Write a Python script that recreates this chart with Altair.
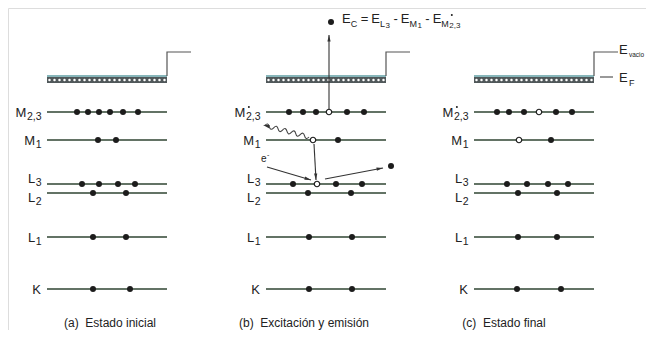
import math
import altair as alt
import pandas as pd
import numpy as np

FONT = "Liberation Sans"
INK = "#1c1c1c"
LINE_C = "#2f4532"
STEP_C = "#555555"

# ---------------- data ----------------
PANELS = ["a", "b", "c"]
PANEL_X0 = [47, 266, 474]          # left end of orbital lines (px-like units)
LINE_LEN = 120
CAPTIONS = ["(a)\u00a0 Estado inicial", "(b)\u00a0 Excitación y emisión", "(c)\u00a0 Estado final"]
CAPTION_X = [110, 304, 504]
CAPTION_Y = 323

LEVELS = ["M23", "M1", "L3", "L2", "L1", "K"]
LEVEL_Y = [112, 140, 184, 193, 237, 289]          # energy axis (screen units)
LEVEL_LETTER = ["M", "M", "L", "L", "L", "K"]
LEVEL_SUB = ["2,3", "1", "3", "2", "1", ""]
LEVEL_LABEL_Y = [112, 140, 178, 197, 237, 289]
STAR_PANELS = ["b", "c"]                         # M2,3* marked with a star

BAND_TOP, BAND_BOT, VACUUM = 76, 83, 52
STEP_LEN = 24

# electron positions along each level (offset from line start)
ELECTRONS = {
    "a": {"M23": [30, 41, 52, 63, 76, 91], "M1": [51, 69], "L3": [35, 52, 71, 88],
          "L2": [46, 79], "L1": [46, 79], "K": [46, 83]},
    "b": {"M23": [23, 37, 50, 81, 98], "M1": [72], "L3": [27, 70, 96],
          "L2": [42, 85], "L1": [43, 86], "K": [43, 86]},
    "c": {"M23": [23, 35, 50, 82, 98], "M1": [77], "L3": [33, 53, 74, 94],
          "L2": [44, 83], "L1": [44, 83], "K": [43, 87]},
}
HOLES = {
    "b": {"M23": [63], "M1": [47], "L3": [51]},
    "c": {"M23": [65], "M1": [45]},
}

# arrows in panel (b): start -> end (head at end)
ARROW_X1 = [329, 314, 267, 325]
ARROW_Y1 = [110, 144, 167, 179]
ARROW_X2 = [329, 316, 311, 383]
ARROW_Y2 = [35, 180, 180, 168]
WAVE_FROM = (309, 137)
WAVE_TO = (263, 125)
FREE_ELECTRONS_X = [331, 391]
FREE_ELECTRONS_Y = [22, 166]

FORMULA = [("E", "m"), ("C", "s"), ("=", "m"), ("E", "m"), ("L", "s"), ("3", "ss"),
           ("-", "m"), ("E", "m"), ("M", "s"), ("1", "ss"),
           ("-", "m"), ("E", "m"), ("M", "s"), ("2,3", "ss")]
FORMULA_X0, FORMULA_BASE = 342, 23

# ---------------- helpers ----------------
CW = {'M': 0.833, 'L': 0.556, 'K': 0.667, 'E': 0.667, 'C': 0.722, 'F': 0.611,
      '1': 0.556, '2': 0.556, '3': 0.556, ',': 0.278, ' ': 0.278, '=': 0.584, '-': 0.333}


def tw(s, fs):
    return sum(CW.get(c, 0.55) for c in s) * fs


XS = alt.Scale(domain=[8, 646], nice=False, zero=False)
YS = alt.Scale(domain=[8, 330], nice=False, zero=False, reverse=True)


def X(f="x"):
    return alt.X(f"{f}:Q", scale=XS, axis=None)


def Y(f="y"):
    return alt.Y(f"{f}:Q", scale=YS, axis=None)


# ---------------- build tables ----------------
lines_rows, band_rows, dot_rows, step_rows, e_rows, h_rows = [], [], [], [], [], []
lab_rows, star_rows = [], []
for p, x0 in zip(PANELS, PANEL_X0):
    for lev, y, let, sub, ly in zip(LEVELS, LEVEL_Y, LEVEL_LETTER, LEVEL_SUB, LEVEL_LABEL_Y):
        lines_rows.append(dict(x=x0, x2=x0 + LINE_LEN, y=y))
        for o in ELECTRONS[p].get(lev, []):
            e_rows.append(dict(x=x0 + o, y=y))
        for o in HOLES.get(p, {}).get(lev, []):
            h_rows.append(dict(x=x0 + o, y=y))
        wl, ws = tw(let, 13), tw(sub, 10.5)
        xl = x0 - 6 - wl - ws
        lab_rows.append(dict(x=xl, y=ly + 4.5, t=let, fs=13))
        if sub:
            lab_rows.append(dict(x=xl + wl + 0.5, y=ly + 8, t=sub, fs=10.5))
        if lev == "M23" and p in STAR_PANELS:
            star_rows.append(dict(x=xl + wl + 3.5, y=ly - 5))
    band_rows.append(dict(x=x0, x2=x0 + LINE_LEN, y=BAND_TOP + 1, y2=BAND_BOT, yt=BAND_TOP))
    for xd in np.arange(x0 + 2.5, x0 + LINE_LEN, 5.0):
        dot_rows.append(dict(x=float(xd), y=(BAND_TOP + BAND_BOT) / 2 + 0.5))
    for i, (sx, sy) in enumerate([(x0 + LINE_LEN, BAND_TOP), (x0 + LINE_LEN, VACUUM),
                                  (x0 + LINE_LEN + STEP_LEN, VACUUM)]):
        step_rows.append(dict(x=sx, y=sy, o=i, p=p))

for x, y in zip(FREE_ELECTRONS_X, FREE_ELECTRONS_Y):
    e_rows.append(dict(x=x, y=y))

arrows = pd.DataFrame(dict(x=ARROW_X1, y=ARROW_Y1, x2=ARROW_X2, y2=ARROW_Y2))
heads = []
for x1, y1, x2, y2 in zip(ARROW_X1, ARROW_Y1, ARROW_X2, ARROW_Y2):
    ang = math.degrees(math.atan2(x2 - x1, -(y2 - y1))) % 360
    heads.append(dict(x=x2, y=y2, a=ang))
wdx, wdy = WAVE_TO[0] - WAVE_FROM[0], WAVE_TO[1] - WAVE_FROM[1]
heads.append(dict(x=WAVE_TO[0], y=WAVE_TO[1], a=math.degrees(math.atan2(wdx, -wdy)) % 360))
wlen = math.hypot(wdx, wdy)
wave = pd.DataFrame([dict(x=(WAVE_FROM[0] + WAVE_TO[0]) / 2, y=(WAVE_FROM[1] + WAVE_TO[1]) / 2,
                          a=math.degrees(math.atan2(-wdy, -wdx)) % 360)])
parts = ["M-0.92,0"]
nh = 10
for i in range(nh):
    xs = -0.92 + 1.92 * i / nh
    xe = -0.92 + 1.92 * (i + 1) / nh
    sgn = -1 if i % 2 == 0 else 1
    parts.append(f"Q{(xs + xe) / 2:.3f},{sgn * 0.18:.3f} {xe:.3f},0")
WAVE_PATH = " ".join(parts)
HEAD_PATH = "M0,0 L0.5,2 L-0.5,2 Z"

# formula text
f_rows = []
cx = FORMULA_X0
FS = {"m": 13, "s": 9, "ss": 8}
DY = {"m": 0, "s": 3.5, "ss": 5}
prev = None
for t, k in FORMULA:
    if k == "m" and prev is not None and (t in "=-" or prev in "=-"):
        cx += 3
    f_rows.append(dict(x=cx, y=FORMULA_BASE + DY[k], t=t, fs=FS[k]))
    if t == "2,3":
        star_rows.append(dict(x=cx + 2.5, y=FORMULA_BASE - 8))
    cx += tw(t, FS[k]) + (0.5 if k != "m" else 0)
    prev = t

# extra labels: E vacio, E_F, e-
extra = [
    dict(x=619, y=54, t="E", fs=13), dict(x=629, y=57, t="vacio", fs=6.5),
    dict(x=619, y=82, t="E", fs=13), dict(x=629, y=86, t="F", fs=9),
    dict(x=261, y=162, t="e", fs=10), dict(x=267, y=157, t="-", fs=7),
]
ef_tick = pd.DataFrame([dict(x=600, x2=613, y=77)])

caps = pd.DataFrame(dict(x=CAPTION_X, y=[CAPTION_Y] * 3, t=CAPTIONS))

# ---------------- layers ----------------
L = []
L.append(alt.Chart(pd.DataFrame(band_rows)).mark_rect(color="#50585a").encode(
    x=X(), x2="x2:Q", y=Y(), y2="y2:Q"))
L.append(alt.Chart(pd.DataFrame(band_rows)).mark_rule(color="#5f9ea3", strokeWidth=1.6).encode(
    x=X(), x2="x2:Q", y=Y("yt")))
L.append(alt.Chart(pd.DataFrame(dot_rows)).mark_point(shape="circle", filled=True, color="white",
                                                       size=6, opacity=1).encode(x=X(), y=Y()))
L.append(alt.Chart(pd.DataFrame(step_rows)).mark_line(color=STEP_C, strokeWidth=1.2).encode(
    x=X(), y=Y(), order="o:Q", detail="p:N"))
L.append(alt.Chart(ef_tick).mark_rule(color=STEP_C, strokeWidth=1.2).encode(x=X(), x2="x2:Q", y=Y()))
L.append(alt.Chart(pd.DataFrame(lines_rows)).mark_rule(color=LINE_C, strokeWidth=1.4).encode(
    x=X(), x2="x2:Q", y=Y()))
L.append(alt.Chart(arrows).mark_rule(color="#333333", strokeWidth=1.1).encode(
    x=X(), y=Y(), x2="x2:Q", y2="y2:Q"))
L.append(alt.Chart(wave).mark_point(shape=WAVE_PATH, filled=False, color="#444444", strokeWidth=1.1,
                                    size=wlen ** 2, opacity=1).encode(
    x=X(), y=Y(), angle=alt.Angle("a:Q", scale=None)))
L.append(alt.Chart(pd.DataFrame(heads)).mark_point(shape=HEAD_PATH, filled=True, color="#333333",
                                                   size=42, opacity=1).encode(
    x=X(), y=Y(), angle=alt.Angle("a:Q", scale=None)))
L.append(alt.Chart(pd.DataFrame(e_rows)).mark_circle(color=INK, size=36, opacity=1).encode(x=X(), y=Y()))
L.append(alt.Chart(pd.DataFrame(h_rows)).mark_point(shape="circle", filled=True, fill="white", stroke=INK,
                                                    strokeWidth=1.2, size=30, opacity=1).encode(x=X(), y=Y()))
L.append(alt.Chart(pd.DataFrame(star_rows)).mark_circle(color=INK, size=4, opacity=1).encode(x=X(), y=Y()))
txt = dict(font=FONT, color="#222222", align="left", baseline="alphabetic")
L.append(alt.Chart(pd.DataFrame(lab_rows)).mark_text(**txt).encode(
    x=X(), y=Y(), text="t:N", size=alt.Size("fs:Q", scale=None)))
L.append(alt.Chart(pd.DataFrame(f_rows)).mark_text(**txt).encode(
    x=X(), y=Y(), text="t:N", size=alt.Size("fs:Q", scale=None)))
L.append(alt.Chart(pd.DataFrame(extra)).mark_text(**txt).encode(
    x=X(), y=Y(), text="t:N", size=alt.Size("fs:Q", scale=None)))
L.append(alt.Chart(caps).mark_text(font=FONT, color="#222222", align="center", baseline="middle",
                                   fontSize=12).encode(x=X(), y=Y(), text="t:N"))

chart = alt.layer(*L).properties(width=638, height=322, autosize="none", padding=0).configure_view(
    strokeWidth=0).configure(background="white")

chart.save("out.html", embed_options={"renderer": "svg", "actions": False})
